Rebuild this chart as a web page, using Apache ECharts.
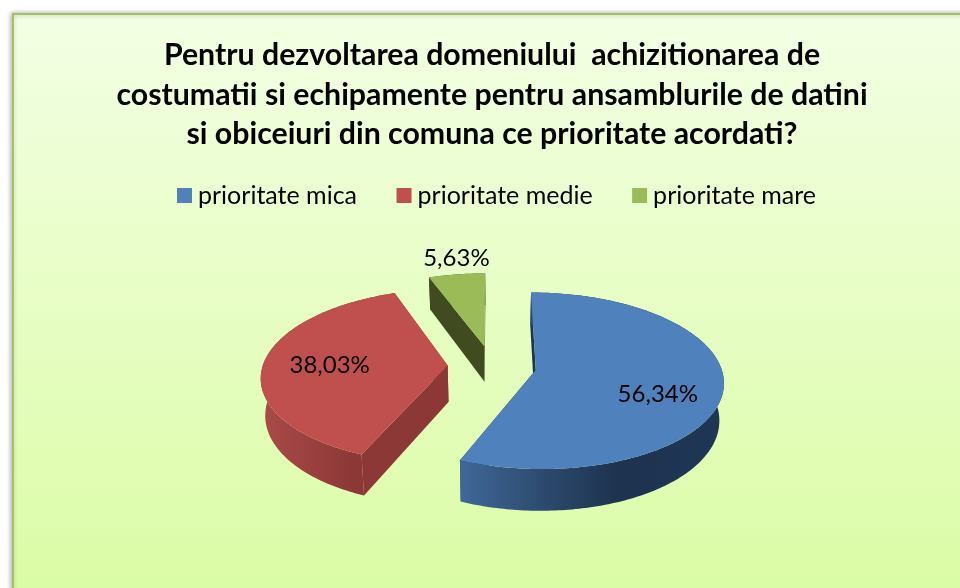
<!DOCTYPE html>
<html><head><meta charset="utf-8">
<style>html,body{margin:0;padding:0;background:#fff}#c{width:960px;height:588px}</style>
<script src="https://cdn.jsdelivr.net/npm/echarts@6/dist/echarts.min.js"></script>
</head><body><div id="c"></div>
<script>
const categories = ['prioritate mica', 'prioritate medie', 'prioritate mare'];
const values = [56.34, 38.03, 5.63];
const valueLabels = ['56,34%', '38,03%', '5,63%'];
const titleText = 'Pentru dezvoltarea domeniului  achizitionarea de\ncostumatii si echipamente pentru ansamblurile de datini\nsi obiceiuri din comuna ce prioritate acordati?';

const colors = ['#4f81bd', '#c0504d', '#9bbb59'];
const wallColors = ['#1d3350', '#8b3836', '#404b20'];
const rimStops = [
  [[0, '#3f6899'], [0.35, '#2b4769'], [0.6, '#1d3350'], [1, '#1f3655']],
  [[0, '#aa4b49'], [0.7, '#8b3836'], [1, '#8b3836']],
  [[0, '#404b20'], [1, '#404b20']]
];
const labelOffsets = [[122, 24], [-118, 0], [-28, -88]];

const C = {x: 492, y: 366, A: 185, B: 86, k: 0.12, depth: 36.5, shrink: 0.02, explode: 0.24};
const total = values.reduce((a, b) => a + b, 0);

function project(X, Y, z) {
  const den = 1 + C.k * Y;
  return [
    C.x + C.A * X / (den * (1 + C.shrink * z)),
    C.y - C.B * Y / den + z * C.depth / den
  ];
}

function sliceRender(idx) {
  return function (params, api) {
    const v = api.value(0);
    let before = 0;
    for (let i = 0; i < idx; i++) before += values[i];
    const a0 = before / total * 2 * Math.PI;
    const a1 = (before + v) / total * 2 * Math.PI;
    const mid = (a0 + a1) / 2;
    const ox = C.explode * Math.sin(mid), oy = C.explode * Math.cos(mid);
    const arc = z => {
      const pts = [];
      const n = Math.max(8, Math.round((a1 - a0) * 60));
      for (let i = 0; i <= n; i++) {
        const t = a0 + (a1 - a0) * i / n;
        pts.push(project(ox + Math.sin(t), oy + Math.cos(t), z));
      }
      return pts;
    };
    const top = arc(0), bottom = arc(1);
    const apexT = project(ox, oy, 0), apexB = project(ox, oy, 1);
    const poly = (points, fill) => ({type: 'polygon', shape: {points}, style: {fill}, silent: true});
    const wall = wallColors[idx];
    const children = [
      poly([apexT, top[0], bottom[0], apexB], wall),
      poly([apexT, top[top.length - 1], bottom[bottom.length - 1], apexB], wall),
      poly(top.concat(bottom.slice().reverse()), {
        type: 'linear', x: 0, y: 0, x2: 1, y2: 0,
        colorStops: rimStops[idx].map(s => ({offset: s[0], color: s[1]}))
      }),
      poly([apexT].concat(top), colors[idx]),
      {type: 'text', silent: true, z2: 10, style: {
        text: valueLabels[idx],
        x: apexT[0] + labelOffsets[idx][0], y: apexT[1] + labelOffsets[idx][1],
        align: 'center', verticalAlign: 'middle',
        font: '24px Lato', fill: '#000'
      }}
    ];
    return {type: 'group', children};
  };
}

const chart = echarts.init(document.getElementById('c'), null, {renderer: 'canvas'});
chart.setOption({
  animation: false,
  graphic: [{
    type: 'rect', z: -10, silent: true,
    shape: {x: 13, y: 14, width: 970, height: 600},
    style: {
      fill: {type: 'linear', x: 0, y: 0, x2: 0, y2: 1, colorStops: [
        {offset: 0, color: '#f3ffe4'}, {offset: 1, color: '#dafca3'}]},
      stroke: '#a5c267', lineWidth: 2,
      shadowBlur: 5, shadowColor: 'rgba(0,0,0,0.3)', shadowOffsetX: -1
    }
  }],
  title: {
    text: titleText, left: 487, top: 30.5, textAlign: 'center',
    textStyle: {fontFamily: 'Lato', fontWeight: 'bold', fontSize: 30.3, lineHeight: 39.5, color: '#000'}
  },
  legend: {
    data: categories, top: 178, left: 172, icon: 'rect', itemWidth: 15, itemHeight: 15, itemGap: 39.5,
    selectedMode: false,
    textStyle: {fontFamily: 'Lato', fontSize: 25, color: '#000', padding: [0, 0, 0, 1]}
  },
  series: categories.map((name, i) => ({
    type: 'custom', name, coordinateSystem: 'none',
    itemStyle: {color: colors[i]},
    data: [[values[i]]],
    renderItem: sliceRender(i),
    silent: true
  }))
});
</script></body></html>
